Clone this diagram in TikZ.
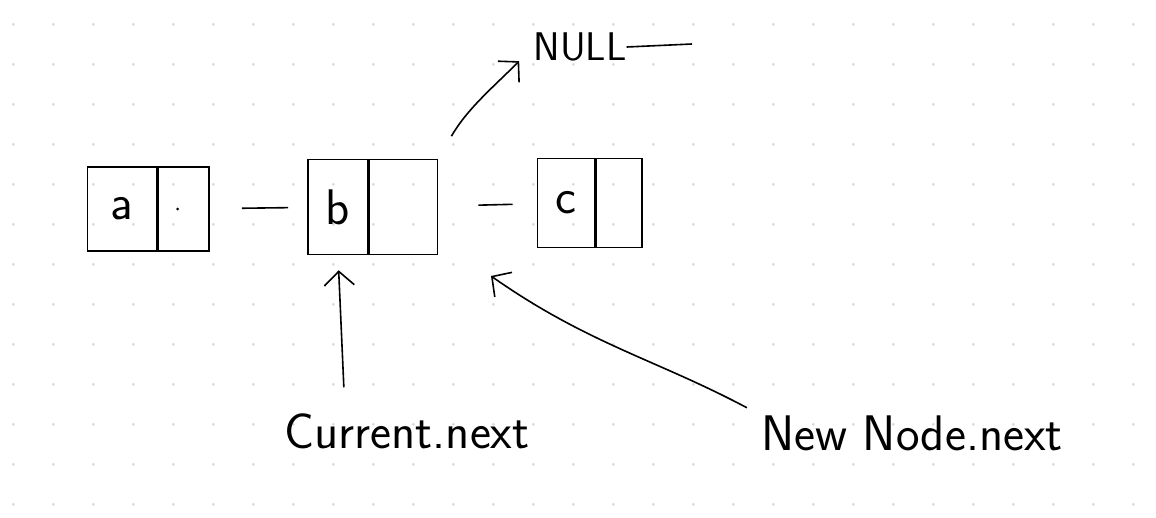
\documentclass[tikz,border=0pt]{standalone}
\usetikzlibrary{positioning,arrows.meta}
\begin{document}
\begin{tikzpicture}[x = 1pt, y = -1pt,
cell/.style = {rectangle, draw, line width = 1.6pt, minimum height = 84, inner sep = 0pt, font = \fontsize{50}{54}\sffamily},
ptr/.style = {cell, minimum width = 50},
tag/.style = {inner sep = 0pt, font = \fontsize{50}{54}\sffamily},
link/.style = {line width = 1.6pt},
pointer/.style = {link, -{Straight Barb[length = 14pt, width = 30pt]}}]

\useasboundingbox (0,0) rectangle (1156,517);

% dot grid
\foreach \i in {0,...,28}
  \foreach \j in {0,...,12}
    \fill[black!14] (13.3+40*\i, 24.3+40*\j) circle (1.6);

\node[cell, minimum width = 69] (a) at (122, 209) {a};
\node[ptr, minimum width = 51, right = 0pt of a] (a-next) {};
\node[cell, minimum width = 60, minimum height = 95] (b) at (338, 207) {b};
\node[ptr, minimum width = 68, minimum height = 95, right = 0pt of b] (b-next) {};
\node[cell, minimum width = 57, minimum height = 89] (c) at (566, 203) {c};
\node[ptr, minimum width = 46, minimum height = 89, right = 0pt of c] (c-next) {};
\fill (a-next.center) ++(-6, 0) circle (1.5);

\node[tag, font = \fontsize{40}{44}\sffamily] (null) at (580, 47) {NULL};
\coordinate (null-end) at (692, 44);
\node[tag] (current) at (407, 431) {Current.next};
\node[tag] (new-node) at (912, 433) {New Node.next};
\coordinate (insert-at) at (491, 276);

% Connect cells
\draw[link, shorten <= 32, shorten >= 19] (a-next) -- (b);
\draw[link, shorten <= 40, shorten >= 24] (b-next) -- (c);
\draw[link] (null.east) -- (null-end);

% Pointers
\draw[pointer, shorten <= 26, shorten >= 20] (b-next.north east) to[out = 60, in = 225] (null.west);
\draw[pointer, shorten <= 26, shorten >= 15] ([xshift = -62pt]current.north) -- (b.south);
\draw[pointer, shorten <= 16] (new-node.north west) to[out = 152, in = -35] (insert-at);

\end{tikzpicture}
\end{document}
